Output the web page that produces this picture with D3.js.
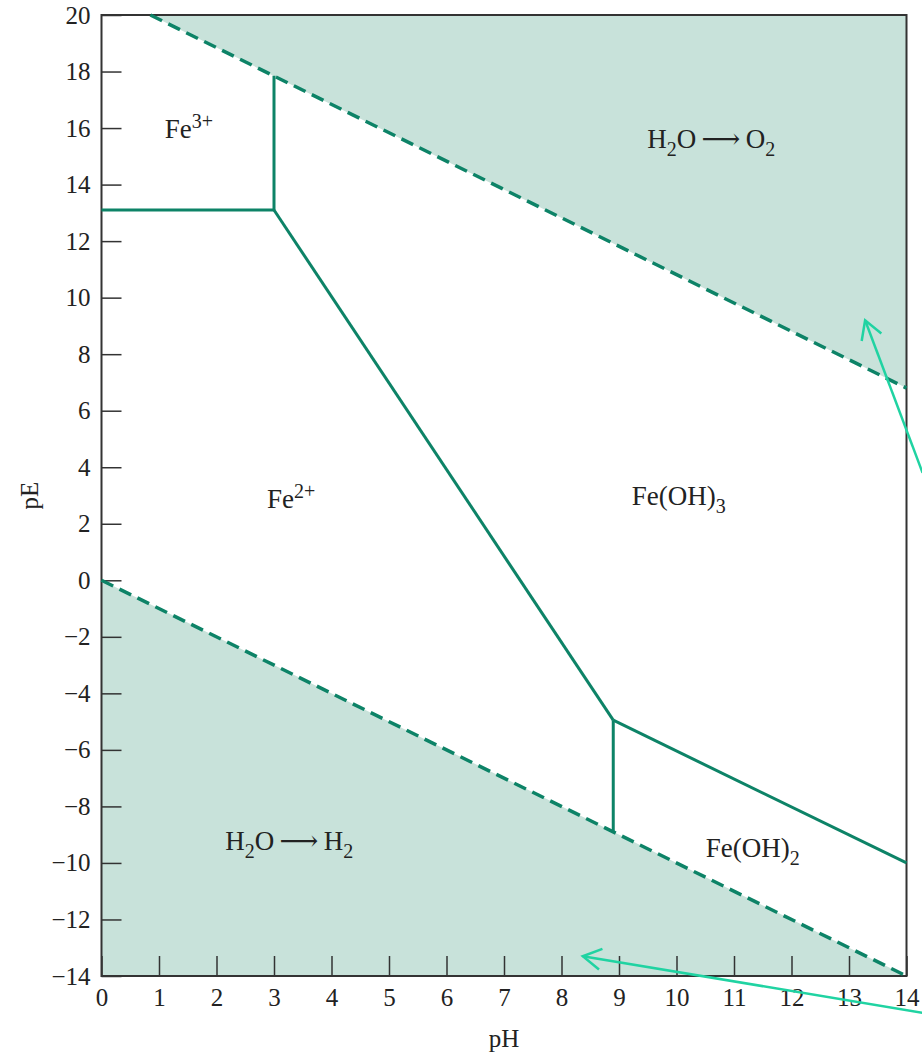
<!DOCTYPE html>
<html>
<head>
<meta charset="utf-8">
<script src="https://cdn.jsdelivr.net/npm/d3@7"></script>
<style>
  body { margin: 0; background: #fff; }
  text { font-family: "Liberation Serif", "DejaVu Serif", serif; fill: #222; }
</style>
</head>
<body>
<div id="chart"></div>
<script>
// pE-pH diagram for iron
var svgWidth = 922;
var svgHeight = 1052;

var margin = { top: 15, right: 15, bottom: 76, left: 101.5 };
var width = 906.5 - margin.left;
var height = 976 - margin.top;

// axis ticks
var pHTicks = [0, 1, 2, 3, 4, 5, 6, 7, 8, 9, 10, 11, 12, 13, 14];
var pETicks = [-14, -12, -10, -8, -6, -4, -2, 0, 2, 4, 6, 8, 10, 12, 14, 16, 18, 20];

// water stability limits (pH, pE)
var oxygenLine = [[0.85, 20], [14, 6.8]];
var hydrogenLine = [[0, 0], [14, -14]];

// shaded regions outside the water stability field
var oxygenRegion = [[0.85, 20], [14, 20], [14, 6.8]];
var hydrogenRegion = [[0, 0], [14, -14], [0, -14]];

// species boundaries
var fe3Fe2 = [[0, 13.1], [3, 13.1]];
var fe3FeOH3 = [[3, 13.1], [3, 17.85]];
var fe2FeOH3 = [[3, 13.1], [8.9, -4.95]];
var fe2FeOH2 = [[8.9, -4.95], [8.9, -8.9]];
var feOH2FeOH3 = [[8.9, -4.95], [14, -10.0]];

// region labels: parts = [text, "", "sub" or "sup"]
var labels = [
  { pH: 1.1, pE: 15.65, parts: [["Fe", ""], ["3+", "sup"]] },
  { pH: 9.49, pE: 15.3, parts: [["H", ""], ["2", "sub"], ["O\u2009\u27F6\u2009O", ""], ["2", "sub"]] },
  { pH: 2.88, pE: 2.55, parts: [["Fe", ""], ["2+", "sup"]] },
  { pH: 9.22, pE: 2.66, parts: [["Fe(OH)", ""], ["3", "sub"]] },
  { pH: 2.15, pE: -9.55, parts: [["H", ""], ["2", "sub"], ["O\u2009\u27F6\u2009H", ""], ["2", "sub"]] },
  { pH: 10.51, pE: -9.8, parts: [["Fe(OH)", ""], ["2", "sub"]] }
];

// annotation arrows: tail -> tip
var arrows = [
  { from: [14.28, 3.8], to: [13.28, 9.2] },
  { from: [14.28, -15.3], to: [8.37, -13.3] }
];

var svg = d3.select("#chart")
  .append("svg")
  .attr("width", svgWidth)
  .attr("height", svgHeight);

var chartGroup = svg.append("g")
  .attr("transform", `translate(${margin.left}, ${margin.top})`);

var x = d3.scaleLinear().domain([0, 14]).range([0, width]);
var y = d3.scaleLinear().domain([-14, 20]).range([height, 0]);

var line = d3.line().x(d => x(d[0])).y(d => y(d[1]));

var fillColor = "#c8e2da";
var lineColor = "#0d8367";
var arrowColor = "#20d3a2";

// shaded regions
chartGroup.selectAll(".region")
  .data([oxygenRegion, hydrogenRegion])
  .enter()
  .append("path")
  .attr("class", "region")
  .attr("d", d => line(d) + "Z")
  .attr("fill", fillColor);

// axes
var bottomAxis = d3.axisBottom(x)
  .tickValues(pHTicks)
  .tickSizeInner(-20)
  .tickSizeOuter(0)
  .tickPadding(12);

var leftAxis = d3.axisLeft(y)
  .tickValues(pETicks)
  .tickSizeInner(-20)
  .tickSizeOuter(0)
  .tickPadding(11)
  .tickFormat(d => d < 0 ? "\u2212" + Math.abs(d) : d);

var xAxisG = chartGroup.append("g")
  .attr("transform", `translate(0, ${height})`)
  .call(bottomAxis);

var yAxisG = chartGroup.append("g")
  .call(leftAxis);

[xAxisG, yAxisG].forEach(function(g) {
  g.select(".domain").remove();
  g.selectAll(".tick line").attr("stroke", "#333").attr("stroke-width", 1.5);
  g.selectAll(".tick text")
    .style("font-size", "25px")
    .style("font-family", "'Liberation Serif', serif")
    .attr("fill", "#222");
});

// frame
chartGroup.append("rect")
  .attr("x", 0)
  .attr("y", 0)
  .attr("width", width)
  .attr("height", height)
  .attr("fill", "none")
  .attr("stroke", "#333")
  .attr("stroke-width", 2);

// water lines (dashed)
chartGroup.selectAll(".water")
  .data([oxygenLine, hydrogenLine])
  .enter()
  .append("path")
  .attr("class", "water")
  .attr("d", line)
  .attr("fill", "none")
  .attr("stroke", lineColor)
  .attr("stroke-width", 3.5)
  .attr("stroke-dasharray", "13,7");

// species boundaries
chartGroup.selectAll(".boundary")
  .data([fe3Fe2, fe3FeOH3, fe2FeOH3, fe2FeOH2, feOH2FeOH3])
  .enter()
  .append("path")
  .attr("class", "boundary")
  .attr("d", line)
  .attr("fill", "none")
  .attr("stroke", lineColor)
  .attr("stroke-width", 3);

// region labels
labels.forEach(function(lab) {
  var t = chartGroup.append("text")
    .attr("x", x(lab.pH))
    .attr("y", y(lab.pE))
    .style("font-size", "27px");
  var prev = "";
  lab.parts.forEach(function(p) {
    var ts = t.append("tspan").text(p[0]);
    var dy = 0;
    if (prev === "sub") dy -= 8;
    if (prev === "sup") dy += 10;
    if (p[1] === "sub") { dy += 8; ts.style("font-size", "20px"); }
    if (p[1] === "sup") { dy -= 10; ts.style("font-size", "20px"); }
    if (dy !== 0) ts.attr("dy", dy);
    prev = p[1];
  });
});

// axis titles
chartGroup.append("text")
  .attr("x", width / 2)
  .attr("y", height + 71)
  .attr("text-anchor", "middle")
  .style("font-size", "25px")
  .text("pH");

chartGroup.append("text")
  .attr("transform", `translate(${-64}, ${height / 2}) rotate(-90)`)
  .attr("text-anchor", "middle")
  .style("font-size", "25px")
  .text("pE");

// annotation arrows
arrows.forEach(function(a) {
  var x1 = x(a.from[0]), y1 = y(a.from[1]);
  var x2 = x(a.to[0]), y2 = y(a.to[1]);
  var ang = Math.atan2(y1 - y2, x1 - x2);
  var len = 21, spread = Math.PI / 6;
  chartGroup.append("line")
    .attr("x1", x1).attr("y1", y1)
    .attr("x2", x2).attr("y2", y2)
    .attr("stroke", arrowColor)
    .attr("stroke-width", 2.5);
  chartGroup.append("path")
    .attr("d", `M${x2 + len * Math.cos(ang + spread)},${y2 + len * Math.sin(ang + spread)}` +
      `L${x2},${y2}L${x2 + len * Math.cos(ang - spread)},${y2 + len * Math.sin(ang - spread)}`)
    .attr("fill", "none")
    .attr("stroke", arrowColor)
    .attr("stroke-width", 2.5);
});
</script>
</body>
</html>
